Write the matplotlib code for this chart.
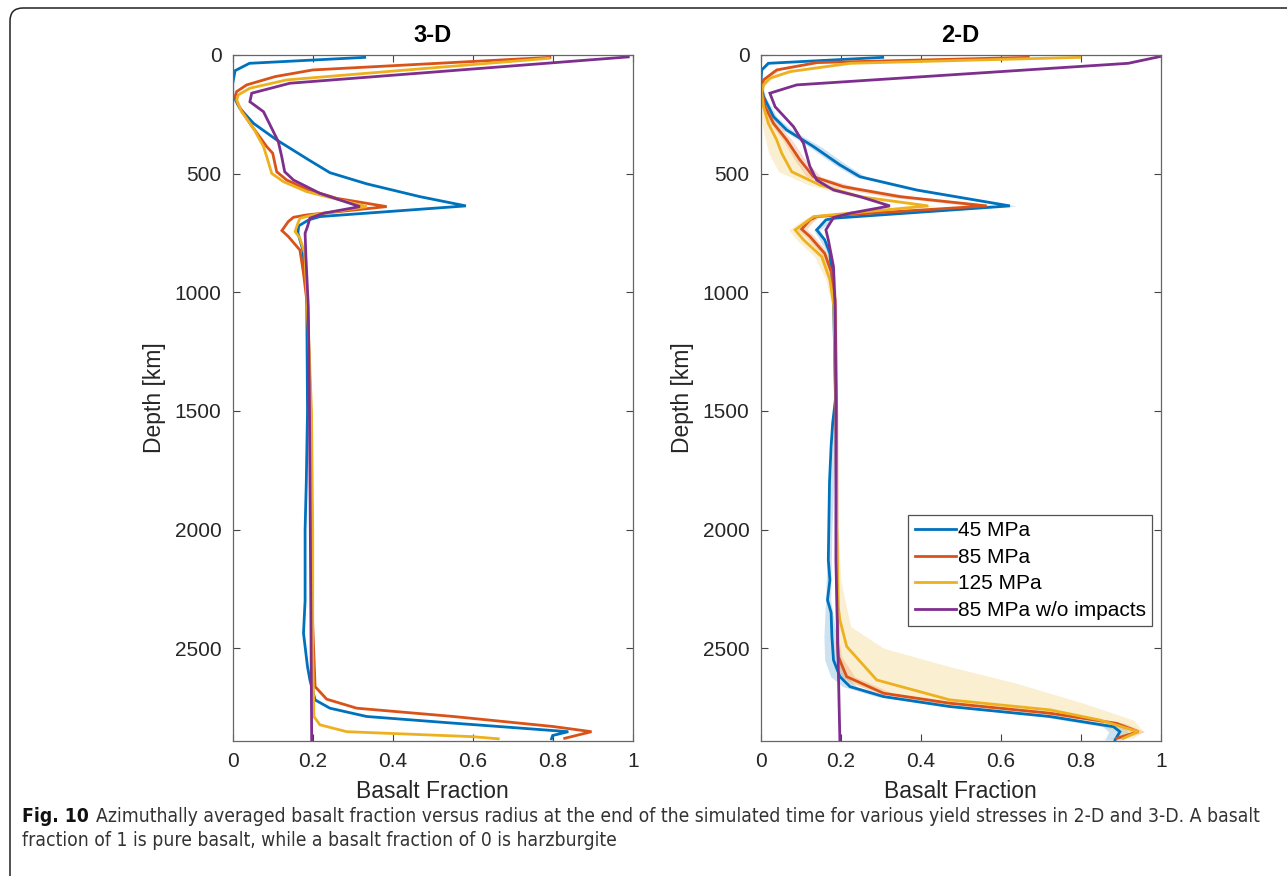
import matplotlib
matplotlib.use('Agg')
import matplotlib.pyplot as plt
from matplotlib import font_manager
from matplotlib.font_manager import FontProperties
from matplotlib.patches import FancyBboxPatch
from matplotlib.transforms import IdentityTransform

# ---- 3-D profiles (depth in km, basalt fraction) ----
d3_blue_depth = [10, 35, 66, 120, 168, 225, 288, 358, 442, 496, 543, 597, 636, 681, 695, 720, 750, 820, 1000,
                 1500, 1800, 2000, 2300, 2437, 2578, 2634, 2718, 2753, 2788, 2816, 2852, 2868, 2882]
d3_blue_frac = [0.33, 0.042, 0.006, 0.0, 0.0, 0.018, 0.052, 0.11, 0.19, 0.243, 0.335, 0.468, 0.583, 0.218, 0.19,
                0.165, 0.163, 0.175, 0.185, 0.187, 0.184, 0.181, 0.181, 0.177, 0.187, 0.193, 0.206, 0.243, 0.335,
                0.552, 0.839, 0.80, 0.797]

d3_orange_depth = [10, 63, 91, 126, 154, 175, 211, 288, 386, 414, 492, 527, 566, 604, 639, 674, 684, 702, 740, 765,
                   822, 920, 1060, 1500, 2000, 2400, 2662, 2715, 2753, 2788, 2830, 2852, 2880]
d3_orange_frac = [0.793, 0.2, 0.106, 0.035, 0.01, 0.006, 0.014, 0.043, 0.085, 0.10, 0.11, 0.135, 0.185, 0.26, 0.385,
                  0.185, 0.152, 0.139, 0.123, 0.139, 0.168, 0.177, 0.187, 0.195, 0.198, 0.2, 0.206, 0.235, 0.31,
                  0.552, 0.80, 0.897, 0.83]

d3_yellow_depth = [14, 70, 105, 140, 168, 190, 239, 309, 386, 428, 499, 534, 576, 618, 639, 674, 688, 723, 744, 772,
                   836, 1060, 1500, 2000, 2500, 2788, 2823, 2852, 2873, 2882]
d3_yellow_frac = [0.79, 0.385, 0.135, 0.043, 0.014, 0.01, 0.022, 0.052, 0.077, 0.085, 0.0975, 0.127, 0.185, 0.285,
                  0.335, 0.202, 0.168, 0.16, 0.156, 0.168, 0.18, 0.187, 0.197, 0.2, 0.2, 0.203, 0.218, 0.285, 0.60,
                  0.664]

d3_purple_depth = [8, 119, 161, 197, 239, 365, 428, 492, 527, 583, 639, 667, 688, 723, 751, 850, 1060, 1500, 2000,
                   2500, 2890]
d3_purple_frac = [0.989, 0.143, 0.0475, 0.043, 0.077, 0.114, 0.1225, 0.13, 0.152, 0.218, 0.318, 0.227, 0.193, 0.187,
                  0.181, 0.183, 0.189, 0.192, 0.194, 0.196, 0.1975]

# ---- 2-D profiles ----
d2_blue_depth = [10, 35, 63, 120, 175, 260, 316, 386, 463, 513, 569, 636, 688, 695, 737, 779, 836, 1004, 1450,
                 1550, 1650, 1800, 2128, 2212, 2297, 2350, 2450, 2550, 2620, 2662, 2704, 2746, 2788, 2831, 2852, 2887]
d2_blue_frac = [0.305, 0.019, 0.0025, 0.0, 0.007, 0.032, 0.065, 0.132, 0.198, 0.248, 0.39, 0.623, 0.182, 0.163,
                0.14, 0.16, 0.173, 0.182, 0.187, 0.18, 0.176, 0.172, 0.169, 0.173, 0.167, 0.176, 0.178, 0.182, 0.198,
                0.223, 0.307, 0.473, 0.723, 0.882, 0.898, 0.886]

d2_orange_depth = [10, 32, 63, 105, 147, 218, 288, 358, 442, 513, 555, 597, 636, 681, 695, 734, 765, 836, 920, 1032,
                   1500, 2000, 2480, 2536, 2620, 2690, 2732, 2774, 2817, 2852, 2880]
d2_orange_frac = [0.669, 0.14, 0.04, 0.007, 0.0025, 0.011, 0.032, 0.065, 0.098, 0.132, 0.207, 0.348, 0.565, 0.14,
                  0.123, 0.1025, 0.123, 0.16, 0.1775, 0.186, 0.19, 0.19, 0.192, 0.194, 0.215, 0.307, 0.473, 0.723,
                  0.89, 0.944, 0.89]

d2_yellow_depth = [10, 35, 70, 98, 126, 161, 218, 288, 358, 414, 492, 548, 597, 636, 681, 702, 737, 779, 850, 948,
                   1060, 1500, 2000, 2325, 2381, 2493, 2634, 2718, 2760, 2803, 2852, 2880]
d2_yellow_frac = [0.798, 0.223, 0.073, 0.023, 0.007, 0.0025, 0.007, 0.019, 0.04, 0.0525, 0.0775, 0.148, 0.248,
                  0.419, 0.132, 0.115, 0.086, 0.107, 0.1525, 0.173, 0.183, 0.188, 0.19, 0.194, 0.198, 0.215, 0.29,
                  0.473, 0.723, 0.848, 0.944, 0.907]

d2_purple_depth = [7, 35, 126, 161, 218, 302, 372, 470, 527, 569, 597, 636, 667, 685, 737, 779, 892, 1060, 1500,
                   2128, 2890]
d2_purple_frac = [0.997, 0.919, 0.09, 0.023, 0.036, 0.082, 0.107, 0.123, 0.14, 0.182, 0.248, 0.323, 0.223, 0.182,
                  0.163, 0.169, 0.182, 0.186, 0.188, 0.188, 0.198]

# ---- 2-D spread between runs (min / max envelopes) ----
band_blue_depth = [10, 35, 63, 120, 175, 260, 316, 386, 463, 513, 569, 636, 688, 737, 836, 1004, 1500, 2000, 2300,
                   2450, 2550, 2620, 2662, 2704, 2746, 2788, 2831, 2852, 2887]
band_blue_lo = [0.30, 0.015, 0.0, 0.0, 0.004, 0.025, 0.055, 0.12, 0.185, 0.235, 0.375, 0.61, 0.175, 0.132, 0.168,
                0.178, 0.183, 0.168, 0.162, 0.158, 0.16, 0.175, 0.205, 0.29, 0.455, 0.70, 0.855, 0.87, 0.86]
band_blue_hi = [0.31, 0.025, 0.006, 0.003, 0.012, 0.04, 0.078, 0.15, 0.215, 0.262, 0.405, 0.64, 0.19, 0.148, 0.178,
                0.186, 0.19, 0.178, 0.175, 0.19, 0.2, 0.215, 0.24, 0.32, 0.49, 0.74, 0.905, 0.92, 0.905]

band_orange_depth = [10, 32, 63, 105, 147, 218, 288, 358, 442, 513, 555, 597, 636, 681, 695, 734, 765, 836, 920,
                     1032, 2000, 2480, 2536, 2620, 2690, 2732, 2774, 2817, 2852, 2880]
band_orange_lo = [0.66, 0.12, 0.03, 0.003, 0.0, 0.006, 0.024, 0.055, 0.085, 0.115, 0.18, 0.31, 0.53, 0.13, 0.112,
                  0.09, 0.112, 0.15, 0.17, 0.182, 0.186, 0.188, 0.188, 0.2, 0.285, 0.45, 0.70, 0.87, 0.925, 0.875]
band_orange_hi = [0.68, 0.16, 0.05, 0.012, 0.006, 0.018, 0.042, 0.078, 0.112, 0.15, 0.235, 0.385, 0.60, 0.15, 0.135,
                  0.115, 0.135, 0.17, 0.185, 0.19, 0.194, 0.197, 0.202, 0.235, 0.33, 0.50, 0.75, 0.91, 0.96, 0.905]

band_yellow_depth = [10, 35, 70, 98, 126, 161, 218, 288, 358, 414, 492, 548, 597, 636, 681, 702, 737, 779, 850, 948,
                     1060, 2000, 2212, 2325, 2409, 2500, 2578, 2648, 2732, 2803, 2852, 2880]
band_yellow_lo = [0.79, 0.20, 0.06, 0.015, 0.003, 0.0, 0.0, 0.003, 0.012, 0.02, 0.045, 0.12, 0.225, 0.395, 0.12,
                  0.10, 0.07, 0.09, 0.135, 0.163, 0.178, 0.186, 0.186, 0.186, 0.187, 0.19, 0.195, 0.22, 0.40, 0.80,
                  0.90, 0.89]
band_yellow_hi = [0.80, 0.25, 0.085, 0.03, 0.012, 0.006, 0.015, 0.035, 0.07, 0.085, 0.11, 0.17, 0.27, 0.44, 0.145,
                  0.13, 0.10, 0.125, 0.17, 0.183, 0.188, 0.194, 0.2, 0.214, 0.225, 0.307, 0.473, 0.64, 0.807, 0.932,
                  0.957, 0.93]

labels = ['45 MPa', '85 MPa', '125 MPa', '85 MPa w/o impacts']
colors = ['#0072BD', '#D95319', '#EDB120', '#7E2F8E']
x_ticks = [0, 0.2, 0.4, 0.6, 0.8, 1]
x_ticklabels = ['0', '0.2', '0.4', '0.6', '0.8', '1']
y_ticks = [0, 500, 1000, 1500, 2000, 2500]
max_depth = 2890

caption_bold = 'Fig. 10'
caption_line1 = ('Azimuthally averaged basalt fraction versus radius at the end of the simulated time for '
                 'various yield stresses in 2-D and 3-D. A basalt')
caption_line2 = 'fraction of 1 is pure basalt, while a basalt fraction of 0 is harzburgite'

plt.rcParams['font.family'] = ['Liberation Sans', 'DejaVu Sans']


def caption_fonts():
    # prefer a narrow/condensed face for the caption if one is on the system
    regular, bold = None, None
    for f in font_manager.fontManager.ttflist:
        tag = (f.fname + ' ' + f.name).lower()
        if ('narrow' in tag or 'condensed' in tag) and 'mono' not in tag and 'serif' not in tag \
                and 'oblique' not in tag and 'italic' not in tag:
            if f.weight in ('bold', 700) or 'bold' in tag:
                bold = bold or f.fname
            else:
                regular = regular or f.fname
    if regular is None:
        return FontProperties(family='Liberation Sans'), FontProperties(family='Liberation Sans', weight='bold')
    reg = FontProperties(fname=regular)
    bld = FontProperties(fname=bold) if bold else FontProperties(fname=regular, weight='bold')
    return reg, bld


cap_reg, cap_bold = caption_fonts()

fig = plt.figure(figsize=(12.87, 8.76), dpi=100)

ax_w = 400 / 1287
ax_h = 685.7 / 876
ax_b = 1 - 740.7 / 876
ax3 = fig.add_axes([232.7 / 1287, ax_b, ax_w, ax_h])
ax2 = fig.add_axes([760.7 / 1287, ax_b, ax_w, ax_h])


def style_axes(ax, title):
    ax.set_xlim(0, 1)
    ax.set_ylim(max_depth, 0)
    ax.set_xticks(x_ticks)
    ax.set_xticklabels(x_ticklabels)
    ax.set_yticks(y_ticks)
    ax.tick_params(direction='in', length=5, width=0.8, color='#444444', labelcolor='#262626',
                   labelsize=15, top=True, right=True, pad=8)
    for sp in ax.spines.values():
        sp.set_color('#666666')
        sp.set_linewidth(0.9)
    ax.set_title(title, fontsize=17, fontweight='bold', pad=9)
    ax.set_xlabel('Basalt Fraction', fontsize=16.5, color='#262626')
    ax.set_ylabel('Depth [km]', fontsize=16.5, color='#262626')
    ax.xaxis.set_label_coords(0.5, -0.058)
    ax.yaxis.set_label_coords(-0.168, 0.5)


lw = 2.0

# 3-D panel
profiles_3d = [(d3_blue_frac, d3_blue_depth), (d3_orange_frac, d3_orange_depth),
               (d3_yellow_frac, d3_yellow_depth), (d3_purple_frac, d3_purple_depth)]
for (xs, ds), c in zip(profiles_3d, colors):
    ax3.plot(xs, ds, color=c, lw=lw, solid_joinstyle='miter')
style_axes(ax3, '3-D')

# 2-D panel: shaded spread first, then mean lines
bands = [(band_blue_depth, band_blue_lo, band_blue_hi),
         (band_orange_depth, band_orange_lo, band_orange_hi),
         (band_yellow_depth, band_yellow_lo, band_yellow_hi)]
for (ds, lo, hi), c in zip(bands, colors):
    ax2.fill_betweenx(ds, lo, hi, color=c, alpha=0.2, lw=0)

profiles_2d = [(d2_blue_frac, d2_blue_depth), (d2_orange_frac, d2_orange_depth),
               (d2_yellow_frac, d2_yellow_depth), (d2_purple_frac, d2_purple_depth)]
for (xs, ds), c, lab in zip(profiles_2d, colors, labels):
    ax2.plot(xs, ds, color=c, lw=lw, label=lab, solid_joinstyle='miter')
style_axes(ax2, '2-D')

leg = ax2.legend(loc='lower right', bbox_to_anchor=(0.978, 0.167), fontsize=15, frameon=True,
                 fancybox=False, edgecolor='#262626', handlelength=2.0, handletextpad=0.06,
                 labelspacing=0.36, borderpad=0.3, borderaxespad=0)
leg.get_frame().set_linewidth(0.9)
for line in leg.get_lines():
    line.set_linewidth(2.0)

# rounded frame around figure and caption
frame = FancyBboxPatch((10, -20), 1310, 888, boxstyle='round,pad=0,rounding_size=13',
                       transform=IdentityTransform(), fill=False, edgecolor='#222222', lw=1.1)
fig.patches.append(frame)

# caption: bold figure number, then the text, fitted to the line width
renderer = fig.canvas.get_renderer()
cap_size = 12
cap_bold.set_size(cap_size)
cap_reg.set_size(cap_size)
t_bold = fig.text(22 / 1287, 1 - 817 / 876, caption_bold, fontproperties=cap_bold,
                  va='center', ha='left', color='#111111')
t1 = fig.text(0, 1 - 817 / 876, caption_line1, fontproperties=cap_reg,
              va='center', ha='left', color='#333333')
w_b = t_bold.get_window_extent(renderer).width
w1 = t1.get_window_extent(renderer).width
scale = (1262 - 22) / (w_b + 8 + w1)
cap_size = cap_size * scale
t_bold.set_fontsize(cap_size)
t1.set_fontsize(cap_size)
x_rest = 22 + t_bold.get_window_extent(renderer).width + 7
t1.set_x(x_rest / 1287)
t2 = fig.text(22 / 1287, 1 - 841 / 876, caption_line2, fontproperties=cap_reg,
              va='center', ha='left', color='#333333')
t2.set_fontsize(cap_size)

fig.savefig('out.png', dpi=100)
